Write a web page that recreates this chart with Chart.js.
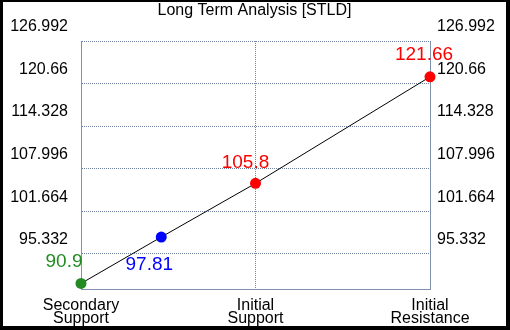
<!DOCTYPE html>
<html>
<head>
<meta charset="utf-8">
<script src="https://cdn.jsdelivr.net/npm/chart.js@4/dist/chart.umd.min.js"></script>
<style>
  html, body { margin: 0; padding: 0; background: #000; }
  #wrap { position: absolute; left: 3px; top: 2px; width: 503px; height: 324px; background: #fff; }
</style>
</head>
<body>
<div id="wrap"><canvas id="stldChart"></canvas></div>
<script>
const chartTitle = "Long Term Analysis [STLD]";
const xLabels = [["Secondary", "Support"], ["Initial", "Support"], ["Initial", "Resistance"]];
const pointX = [0, 0.46, 1, 2];
const pointValues = [90.9, 97.81, 105.8, 121.66];
const pointLabels = ["90.9", "97.81", "105.8", "121.66"];
const pointColors = ["#228b22", "#0000ff", "#ff0000", "#ff0000"];
const yTickValues = [95.332, 101.664, 107.996, 114.328, 120.66, 126.992];
const yMin = 90.0;
const yMax = 126.992;

const gridColor = "#6f819e";
const axisColor = "#8092ab";

Chart.defaults.font.family = "'Liberation Sans', Arial, sans-serif";

// draws the value text next to each dot
const valueLabels = {
    id: "valueLabels",
    afterDatasetsDraw(chart, args, opts) {
        const ctx = chart.ctx;
        const meta = chart.getDatasetMeta(0);
        ctx.save();
        ctx.font = opts.font;
        ctx.textAlign = "center";
        ctx.textBaseline = "middle";
        meta.data.forEach((pt, i) => {
            const off = opts.offsets[i];
            ctx.fillStyle = pointColors[i];
            ctx.fillText(pointLabels[i], pt.x + off[0], pt.y + off[1]);
        });
        ctx.restore();
    }
};

const yAxisBase = {
    type: "linear",
    min: yMin,
    max: yMax,
    afterBuildTicks: s => { s.ticks = yTickValues.map(v => ({ value: v })); },
    ticks: {
        callback: v => String(v),
        color: "#000",
        font: { size: 16 },
        labelOffset: -14
    }
};

const ctx = document.getElementById("stldChart").getContext("2d");
new Chart(ctx, {
    type: "line",
    data: {
        datasets: [{
            data: pointX.map((x, i) => ({ x: x, y: pointValues[i] })),
            borderColor: "#000",
            borderWidth: 1,
            pointRadius: 5.5,
            pointHoverRadius: 5.5,
            pointBackgroundColor: pointColors,
            pointBorderColor: pointColors,
            pointBorderWidth: 0,
            tension: 0,
            clip: false
        }]
    },
    options: {
        responsive: true,
        maintainAspectRatio: false,
        animation: false,
        events: [],
        layout: { padding: 0 },
        plugins: {
            legend: { display: false },
            tooltip: { enabled: false },
            title: {
                display: true,
                text: chartTitle,
                color: "#000",
                font: { size: 16, weight: "normal", lineHeight: 1 },
                padding: { top: 1, bottom: 22 }
            },
            valueLabels: {
                font: "19px 'Liberation Sans', Arial, sans-serif",
                offsets: [[-17, -22], [-12, 28], [-10, -21], [-6, -22]]
            }
        },
        scales: {
            x: {
                type: "linear",
                min: 0,
                max: xLabels.length - 1,
                afterBuildTicks: s => { s.ticks = xLabels.map((l, i) => ({ value: i })); },
                afterFit: s => { s.height = 36.5; },
                ticks: {
                    callback: (v, i) => xLabels[i],
                    color: "#000",
                    font: { size: 16, lineHeight: 0.85 },
                    padding: 9,
                    maxRotation: 0,
                    autoSkip: false
                },
                grid: {
                    drawTicks: false,
                    color: c => (c.index === 0 || c.index === xLabels.length - 1) ? "rgba(0,0,0,0)" : gridColor
                },
                border: { color: axisColor, width: 1, dash: [1, 1] }
            },
            y: Object.assign({}, yAxisBase, {
                position: "left",
                afterFit: s => { s.width = 78; },
                ticks: Object.assign({}, yAxisBase.ticks, { padding: 13 }),
                grid: { drawTicks: false, color: gridColor },
                border: { color: axisColor, width: 1, dash: [1, 1] }
            }),
            y2: Object.assign({}, yAxisBase, {
                position: "right",
                afterFit: s => { s.width = 76; },
                ticks: Object.assign({}, yAxisBase.ticks, { padding: 7 }),
                grid: { display: false, drawTicks: false },
                border: { color: axisColor, width: 1 }
            })
        }
    },
    plugins: [valueLabels]
});
</script>
</body>
</html>
